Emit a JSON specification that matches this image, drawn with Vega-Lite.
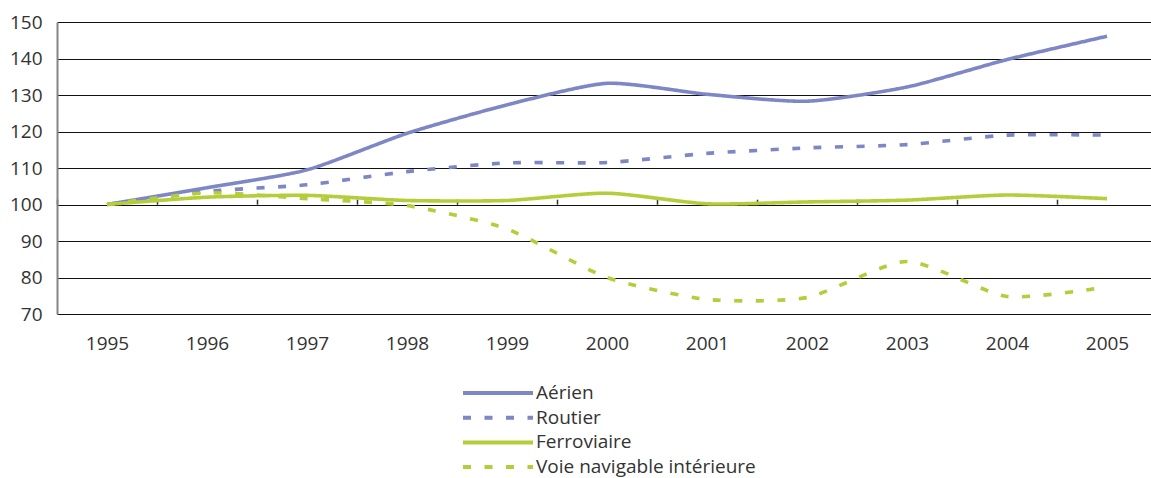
{
  "$schema": "https://vega.github.io/schema/vega-lite/v6.json",
  "width": 1094,
  "height": 292,
  "autosize": {"type": "none"},
  "padding": {"left": 57, "top": 22, "right": 0, "bottom": 164},
  "background": "white",
  "config": {
    "view": {"stroke": null},
    "font": "Open Sans",
    "axis": {"labelFont": "Open Sans", "labelFontSize": 19, "labelColor": "#333333"},
    "legend": {"labelFont": "Open Sans", "labelFontSize": 19, "labelColor": "#333333"}
  },
  "data": {
    "values": [
      {"annee": 1995, "mode": "Aérien", "indice": 100},
      {"annee": 1996, "mode": "Aérien", "indice": 104.6},
      {"annee": 1997, "mode": "Aérien", "indice": 109.5},
      {"annee": 1998, "mode": "Aérien", "indice": 119.5},
      {"annee": 1999, "mode": "Aérien", "indice": 127.3},
      {"annee": 2000, "mode": "Aérien", "indice": 133.2},
      {"annee": 2001, "mode": "Aérien", "indice": 130.2},
      {"annee": 2002, "mode": "Aérien", "indice": 128.3},
      {"annee": 2003, "mode": "Aérien", "indice": 132.2},
      {"annee": 2004, "mode": "Aérien", "indice": 139.7},
      {"annee": 2005, "mode": "Aérien", "indice": 146.1},
      {"annee": 1995, "mode": "Routier", "indice": 100},
      {"annee": 1996, "mode": "Routier", "indice": 103.6},
      {"annee": 1997, "mode": "Routier", "indice": 105.4},
      {"annee": 1998, "mode": "Routier", "indice": 109},
      {"annee": 1999, "mode": "Routier", "indice": 111.4},
      {"annee": 2000, "mode": "Routier", "indice": 111.5},
      {"annee": 2001, "mode": "Routier", "indice": 114},
      {"annee": 2002, "mode": "Routier", "indice": 115.5},
      {"annee": 2003, "mode": "Routier", "indice": 116.4},
      {"annee": 2004, "mode": "Routier", "indice": 119},
      {"annee": 2005, "mode": "Routier", "indice": 119},
      {"annee": 1995, "mode": "Ferroviaire", "indice": 100},
      {"annee": 1996, "mode": "Ferroviaire", "indice": 102},
      {"annee": 1997, "mode": "Ferroviaire", "indice": 102.5},
      {"annee": 1998, "mode": "Ferroviaire", "indice": 101.1},
      {"annee": 1999, "mode": "Ferroviaire", "indice": 101.1},
      {"annee": 2000, "mode": "Ferroviaire", "indice": 103.1},
      {"annee": 2001, "mode": "Ferroviaire", "indice": 100.2},
      {"annee": 2002, "mode": "Ferroviaire", "indice": 100.7},
      {"annee": 2003, "mode": "Ferroviaire", "indice": 101.2},
      {"annee": 2004, "mode": "Ferroviaire", "indice": 102.6},
      {"annee": 2005, "mode": "Ferroviaire", "indice": 101.6},
      {"annee": 1995, "mode": "Voie navigable intérieure", "indice": 100},
      {"annee": 1996, "mode": "Voie navigable intérieure", "indice": 103.2},
      {"annee": 1997, "mode": "Voie navigable intérieure", "indice": 101.6},
      {"annee": 1998, "mode": "Voie navigable intérieure", "indice": 99.7},
      {"annee": 1999, "mode": "Voie navigable intérieure", "indice": 93.3},
      {"annee": 2000, "mode": "Voie navigable intérieure", "indice": 80},
      {"annee": 2001, "mode": "Voie navigable intérieure", "indice": 74},
      {"annee": 2002, "mode": "Voie navigable intérieure", "indice": 74.5},
      {"annee": 2003, "mode": "Voie navigable intérieure", "indice": 84.4},
      {"annee": 2004, "mode": "Voie navigable intérieure", "indice": 74.8},
      {"annee": 2005, "mode": "Voie navigable intérieure", "indice": 77.4}
    ]
  },
  "resolve": {"axis": {"x": "independent"}},
  "encoding": {
    "y": {
      "field": "indice",
      "type": "quantitative",
      "scale": {"domain": [70, 150], "nice": false, "zero": false},
      "axis": {
        "title": null,
        "values": [70, 80, 90, 100, 110, 120, 130, 140, 150],
        "ticks": false,
        "grid": true,
        "gridColor": "#111111",
        "gridWidth": 1,
        "domain": true,
        "domainColor": "#858585",
        "domainWidth": 2,
        "labelOverlap": false,
        "labelPadding": 15
      }
    }
  },
  "layer": [
    {
      "mark": {"type": "line", "strokeWidth": 3.6, "interpolate": "cardinal", "tension": 0.35},
      "encoding": {
        "x": {
          "field": "annee",
          "type": "quantitative",
          "scale": {"domain": [1994.5, 2005.44], "nice": false, "zero": false},
          "axis": {
            "title": null,
            "values": [1995, 1996, 1997, 1998, 1999, 2000, 2001, 2002, 2003, 2004, 2005],
            "format": "d",
            "ticks": false,
            "domain": false,
            "grid": false,
            "labelOverlap": false,
            "labelPadding": 20,
            "labelBaseline": "top"
          }
        },
        "color": {
          "field": "mode",
          "type": "nominal",
          "scale": {
            "domain": ["Aérien", "Routier", "Ferroviaire", "Voie navigable intérieure"],
            "range": ["#7d87c5", "#7d87c5", "#b4cd3a", "#b4cd3a"]
          },
          "legend": {
            "title": null,
            "orient": "none",
            "legendX": 404,
            "legendY": 361,
            "direction": "vertical",
            "padding": 0,
            "symbolType": "stroke",
            "symbolSize": 4900,
            "symbolStrokeWidth": 4,
            "clipHeight": 20,
            "rowPadding": 4.7,
            "labelOffset": 1,
            "labelLimit": 400
          }
        },
        "strokeDash": {
          "field": "mode",
          "type": "nominal",
          "scale": {
            "domain": ["Aérien", "Routier", "Ferroviaire", "Voie navigable intérieure"],
            "range": [[1, 0], [8, 13.5], [1, 0], [8, 13.5]]
          }
        }
      }
    },
    {
      "mark": {"type": "point", "opacity": 0},
      "encoding": {
        "x": {
          "field": "annee",
          "type": "quantitative",
          "axis": {
            "orient": "top",
            "offset": -182.2,
            "title": null,
            "values": [1994.5, 1995.5, 1996.5, 1997.5, 1998.5, 1999.5, 2000.5, 2001.5, 2002.5, 2003.5, 2004.5],
            "labels": false,
            "domain": false,
            "grid": false,
            "ticks": true,
            "tickSize": 5,
            "tickWidth": 1.5,
            "tickColor": "#333333"
          }
        }
      }
    }
  ]
}
